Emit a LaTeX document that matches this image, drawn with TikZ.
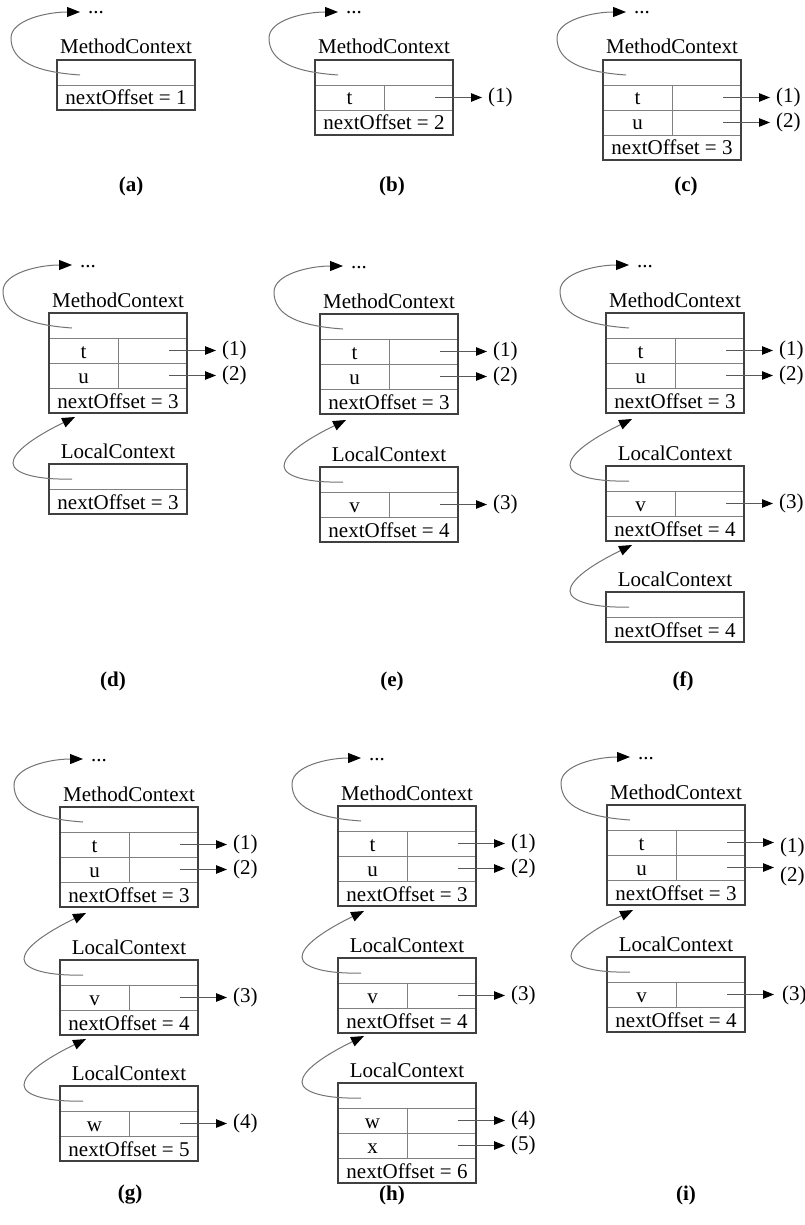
\documentclass[tikz,border=0pt]{standalone}
\usepackage{fontspec}
\setmainfont{Liberation Serif}
\usetikzlibrary{arrows.meta}
\newcommand{\fs}{\fontsize{21}{25}\selectfont}

\tikzset{
  boxline/.style={draw=black!75, line width=1.1pt},
  sepline/.style={draw=black!50, line width=0.7pt},
  backcurve/.style={draw=black!55, line width=1pt, -{Triangle[length=13pt,width=10pt,color=black]}},
  refarrow/.style={draw=black!65, line width=1pt, -{Triangle[length=11pt,width=8.5pt,color=black]}},
  txt/.style={font=\fs, inner sep=0pt, anchor=base},
  reflabel/.style={font=\fs, inner sep=0pt, anchor=west},
  dotstyle/.style={font=\fs, inner sep=0pt, text height=4pt, text depth=0pt, anchor=base west},
  plabel/.style={font=\fs\bfseries, inner sep=0pt}
}

% #1 id, #2 L, #3 T, #4 title, #5 number of variable rows, #6 offset
\newcommand{\ctxbox}[6]{%
  \node[txt] (#1-title) at ({#2+69},{#3-6}) {#4};
  \draw[sepline] (#2,{#3+25}) -- ({#2+138},{#3+25});
  \ifnum#5>0\relax
    \foreach \k in {1,...,#5}{\draw[sepline] (#2,{#3+25+25*\k}) -- ({#2+138},{#3+25+25*\k});}
    \draw[sepline] ({#2+69},{#3+25}) -- ({#2+69},{#3+25+25*#5});
  \fi
  \node[txt] (#1-off) at ({#2+69},{#3+45+25*#5}) {nextOffset = #6};
  \draw[boxline] (#2,#3) rectangle ({#2+138},{#3+50+25*#5});
  \coordinate (#1-in) at ({#2+23},{#3+15});
}

% #1 id, #2 L, #3 T, #4 row k, #5 name, #6 label, #7 dx, #8 dy
\newcommand{\ctxvar}[8]{%
  \node[txt] (#1-v#4) at ({#2+34.5},{#3+25*#4+20}) {#5};
  \coordinate (#1-s#4) at ({#2+120},{#3+25*#4+12.5});
  \coordinate (#1-e#4) at ({#2+167},{#3+25*#4+12.5});
  \node[reflabel] (#1-l#4) at ({#2+167+#7},{#3+25*#4+12.5+#8}) {#6};
  \draw[refarrow] (#1-s#4) -- (#1-e#4);
}

% link from a MethodContext to "..."
\newcommand{\methodlink}[3]{%
  \coordinate (#1-up) at ({#2+23},{#3-48});
  \node[dotstyle] (#1-dots) at ({#2+31},{#3-46}) {...};
  \draw[backcurve] (#1-in) .. controls ({#2-20},{#3+12}) and ({#2-46},{#3+2}) .. ({#2-46},{#3-22})
     .. controls ({#2-46},{#3-40}) and ({#2-10},{#3-48}) .. (#1-up);
}

% link from a LocalContext to the context above
\newcommand{\locallink}[3]{%
  \coordinate (#1-up) at ({#2+26},{#3-47});
  \draw[backcurve] (#1-in) .. controls ({#2-10},{#3+16}) and ({#2-36},{#3+10}) .. ({#2-36},{#3-1})
     .. controls ({#2-36},{#3-12}) and ({#2-15},{#3-27}) .. (#1-up);
}

\begin{document}
\begin{tikzpicture}[x=1pt,y=-1pt]
\useasboundingbox (0,0) rectangle (805,1225);

% (a)
\ctxbox{a}{57}{60}{MethodContext}{0}{1}
\methodlink{a}{57}{60}
\node[plabel] (pa) at (131,186) {(a)};

% (b)
\ctxbox{b}{315}{60}{MethodContext}{1}{2}
\ctxvar{b}{315}{60}{1}{t}{(1)}{6}{0}
\methodlink{b}{315}{60}
\node[plabel] (pb) at (392,186) {(b)};

% (c)
\ctxbox{c}{603}{60}{MethodContext}{2}{3}
\ctxvar{c}{603}{60}{1}{t}{(1)}{6}{0}
\ctxvar{c}{603}{60}{2}{u}{(2)}{6}{0}
\methodlink{c}{603}{60}
\node[plabel] (pc) at (686,186) {(c)};

% (d)
\ctxbox{dm}{49}{313}{MethodContext}{2}{3}
\ctxvar{dm}{49}{313}{1}{t}{(1)}{6}{0}
\ctxvar{dm}{49}{313}{2}{u}{(2)}{6}{0}
\methodlink{dm}{49}{313}
\ctxbox{dl}{49}{464}{LocalContext}{0}{3}
\locallink{dl}{49}{464}
\node[plabel] (pd) at (113,681) {(d)};

% (e)
\ctxbox{em}{320}{314}{MethodContext}{2}{3}
\ctxvar{em}{320}{314}{1}{t}{(1)}{6}{0}
\ctxvar{em}{320}{314}{2}{u}{(2)}{6}{0}
\methodlink{em}{320}{314}
\ctxbox{el}{320}{467}{LocalContext}{1}{4}
\ctxvar{el}{320}{467}{1}{v}{(3)}{6}{0}
\locallink{el}{320}{467}
\node[plabel] (pe) at (392,681) {(e)};

% (f)
\ctxbox{fm}{606}{313}{MethodContext}{2}{3}
\ctxvar{fm}{606}{313}{1}{t}{(1)}{6}{0}
\ctxvar{fm}{606}{313}{2}{u}{(2)}{6}{0}
\methodlink{fm}{606}{313}
\ctxbox{fl}{606}{466}{LocalContext}{1}{4}
\ctxvar{fl}{606}{466}{1}{v}{(3)}{6}{0}
\locallink{fl}{606}{466}
\ctxbox{fk}{606}{592}{LocalContext}{0}{4}
\locallink{fk}{606}{592}
\node[plabel] (pf) at (683,681) {(f)};

% (g)
\ctxbox{gm}{60}{807}{MethodContext}{2}{3}
\ctxvar{gm}{60}{807}{1}{t}{(1)}{6}{0}
\ctxvar{gm}{60}{807}{2}{u}{(2)}{6}{0}
\methodlink{gm}{60}{807}
\ctxbox{gl}{60}{960}{LocalContext}{1}{4}
\ctxvar{gl}{60}{960}{1}{v}{(3)}{6}{0}
\locallink{gl}{60}{960}
\ctxbox{gk}{60}{1086}{LocalContext}{1}{5}
\ctxvar{gk}{60}{1086}{1}{w}{(4)}{6}{0}
\locallink{gk}{60}{1086}
\node[plabel] (pg) at (130,1195) {(g)};

% (h)
\ctxbox{hm}{338}{806}{MethodContext}{2}{3}
\ctxvar{hm}{338}{806}{1}{t}{(1)}{6}{0}
\ctxvar{hm}{338}{806}{2}{u}{(2)}{6}{0}
\methodlink{hm}{338}{806}
\ctxbox{hl}{338}{958}{LocalContext}{1}{4}
\ctxvar{hl}{338}{958}{1}{v}{(3)}{6}{0}
\locallink{hl}{338}{958}
\ctxbox{hk}{338}{1083}{LocalContext}{2}{6}
\ctxvar{hk}{338}{1083}{1}{w}{(4)}{6}{0}
\ctxvar{hk}{338}{1083}{2}{x}{(5)}{6}{0}
\locallink{hk}{338}{1083}
\node[plabel] (ph) at (392,1195) {(h)};

% (i)
\ctxbox{im}{607}{805}{MethodContext}{2}{3}
\ctxvar{im}{607}{805}{1}{t}{(1)}{6}{5}
\ctxvar{im}{607}{805}{2}{u}{(2)}{6}{9}
\methodlink{im}{607}{805}
\ctxbox{il}{607}{957}{LocalContext}{1}{4}
\ctxvar{il}{607}{957}{1}{v}{(3)}{8}{1}
\locallink{il}{607}{957}
\node[plabel] (pi) at (686,1195) {(i)};
\end{tikzpicture}
\end{document}
